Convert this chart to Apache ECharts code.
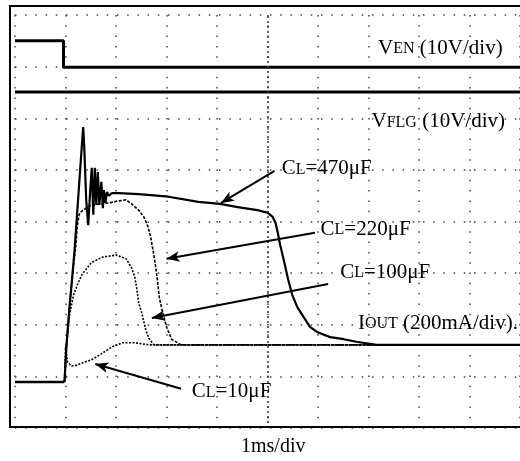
<!DOCTYPE html>
<html><head><meta charset="utf-8">
<script src="https://cdn.jsdelivr.net/npm/echarts@6/dist/echarts.min.js"></script>
<style>html,body{margin:0;padding:0;background:#fff}#c{width:520px;height:461px}</style>
</head><body><div id="c"></div>
<script>
// time in ms (1 ms/div), amplitude in screen divisions (0..8)
const ven = [[0,7.50],[0.96,7.50],[0.96,6.99],[10,6.99]];
const vflg = [[0,6.51],[10,6.51]];
const ioutBase = [[0,0.89],[0.98,0.89]];
const cl10 = [[0.98,0.89],[1.0,1.57],[1.04,1.28],[1.12,1.20],[1.235,1.22],[1.33,1.26],[1.51,1.32],[1.67,1.41],[1.92,1.57],[2.12,1.65],[2.39,1.65],[2.65,1.61],[10,1.61]];
const cl100 = [[0.98,0.89],[1.02,1.61],[1.08,2.19],[1.16,2.58],[1.25,2.81],[1.33,2.98],[1.51,3.20],[1.73,3.31],[2.0,3.35],[2.2,3.28],[2.31,3.10],[2.37,2.93],[2.41,2.71],[2.45,2.42],[2.51,2.23],[2.59,1.90],[2.65,1.74],[2.75,1.61],[10,1.61]];
const cl220 = [[0.98,0.89],[1.02,1.61],[1.08,2.38],[1.14,2.97],[1.2,3.49],[1.235,3.93],[1.27,4.13],[1.31,4.19],[1.47,4.30],[1.67,4.34],[1.86,4.36],[2.06,4.40],[2.2,4.42],[2.31,4.34],[2.45,4.22],[2.55,4.09],[2.63,3.91],[2.69,3.68],[2.75,3.35],[2.80,3.02],[2.86,2.52],[2.92,2.25],[3.0,1.96],[3.10,1.72],[3.29,1.61],[10,1.61]];
const cl470 = [[0.98,0.89],[1.02,1.61],[1.08,2.34],[1.14,3.0],[1.18,3.45],[1.235,4.22],[1.29,5.0],[1.35,5.83],[1.37,5.48],[1.41,4.42],[1.45,3.93],[1.49,4.61],[1.52,5.04],[1.55,4.13],[1.58,5.04],[1.61,4.32],[1.64,4.96],[1.67,4.32],[1.71,4.77],[1.74,4.26],[1.76,4.61],[1.79,4.36],[1.82,4.57],[1.86,4.50],[1.92,4.55],[2.06,4.55],[2.45,4.53],[3.04,4.48],[3.63,4.38],[4.06,4.34],[4.41,4.28],[4.80,4.22],[5.0,4.17],[5.10,4.09],[5.16,3.97],[5.20,3.80],[5.25,3.55],[5.33,3.22],[5.41,2.87],[5.49,2.58],[5.59,2.34],[5.73,2.13],[5.84,1.96],[5.98,1.86],[6.24,1.76],[6.51,1.72],[6.76,1.67],[7.16,1.61],[10,1.61]];

// annotation texts (rich text: b = normal, s = small caps)
const labelTexts = [
  '{b|V}{s|EN}{b| (10V/div)}',
  '{b|V}{s|FLG}{b| (10V/div)}',
  '{b|C}{s|L}{b|=470μF}',
  '{b|C}{s|L}{b|=220μF}',
  '{b|C}{s|L}{b|=100μF}',
  '{b|I}{s|OUT}{b| (200mA/div).}',
  '{b|C}{s|L}{b|=10μF}'
];
const labelAnchors = [[7.18,7.36],[7.05,5.93],[5.27,5.02],[6.04,3.84],[6.43,3.02],[6.78,2.03],[3.49,0.70]];
const arrowFrom = [[5.14,4.98],[5.94,3.78],[6.20,2.79],[3.29,0.76]];
const arrowTo   = [[4.08,4.36],[3.00,3.28],[2.71,2.13],[1.59,1.24]];
const xLabel = '1ms/div';

const FONT = '"Liberation Serif", "Times New Roman", serif';
const rich = {
  b: {fontFamily: FONT, fontSize: 21, color: '#000', verticalAlign: 'bottom'},
  s: {fontFamily: FONT, fontSize: 16, color: '#000', verticalAlign: 'bottom', padding: [0, 0, 2, 0]}
};

function trace(name, data, width, type) {
  return {name, type: 'line', data, symbol: 'none', animation: false, silent: true,
    lineStyle: {color: '#000', width, type: type || 'solid'}, z: 3};
}

const chart = echarts.init(document.getElementById('c'), null, {renderer: 'canvas'});
chart.setOption({
  animation: false,
  backgroundColor: '#fff',
  grid: {left: 15, top: 15, width: 510, height: 413},
  xAxis: {type: 'value', min: 0, max: 10, interval: 1,
    axisLine: {show: false}, axisTick: {show: false}, axisLabel: {show: false},
    splitLine: {show: true, lineStyle: {color: '#444', width: 1.5, type: [1.5, 8.8]}}},
  yAxis: {type: 'value', min: 0, max: 8, interval: 1,
    axisLine: {show: false}, axisTick: {show: false}, axisLabel: {show: false},
    splitLine: {show: true, lineStyle: {color: '#444', width: 1.5, type: [1.5, 8.7]}}},
  graphic: [
    {type: 'rect', shape: {x: 10, y: 6, width: 540, height: 421}, style: {fill: 'none', stroke: '#000', lineWidth: 2}, z: 10},
    {type: 'text', left: 241, top: 437, style: {text: xLabel, font: '20px ' + FONT, fill: '#000'}}
  ],
  series: [
    {type: 'line', data: [], symbol: 'none', silent: true,
      markLine: {silent: true, symbol: 'none', label: {show: false}, animation: false,
        lineStyle: {color: '#333', width: 1.5, type: [2, 3]},
        data: [{xAxis: 5}]}},
    trace('VEN', ven, 3),
    trace('VFLG', vflg, 3),
    trace('IOUT0', ioutBase, 2.5),
    trace('CL10', cl10, 1.6, [2, 1.5]),
    trace('CL100', cl100, 1.6, [2, 1.5]),
    trace('CL220', cl220, 1.6, [3, 1.5]),
    trace('CL470', cl470, 2.2),
    {type: 'line', data: [], symbol: 'none', silent: true, z: 5,
      markLine: {silent: true, animation: false, symbol: ['none', 'arrow'], symbolSize: [8, 13],
        label: {show: false}, lineStyle: {color: '#000', width: 2, type: 'solid'},
        data: arrowFrom.map((f, i) => [{coord: f}, {coord: arrowTo[i]}])},
      markPoint: {silent: true, animation: false, symbol: 'circle', symbolSize: 1,
        itemStyle: {color: 'rgba(0,0,0,0)'},
        label: {show: true, position: 'right', distance: 0, rich},
        data: labelAnchors.map((c, i) => ({coord: c, value: i,
          label: {formatter: labelTexts[i]}}))}}
  ]
});
</script></body></html>
